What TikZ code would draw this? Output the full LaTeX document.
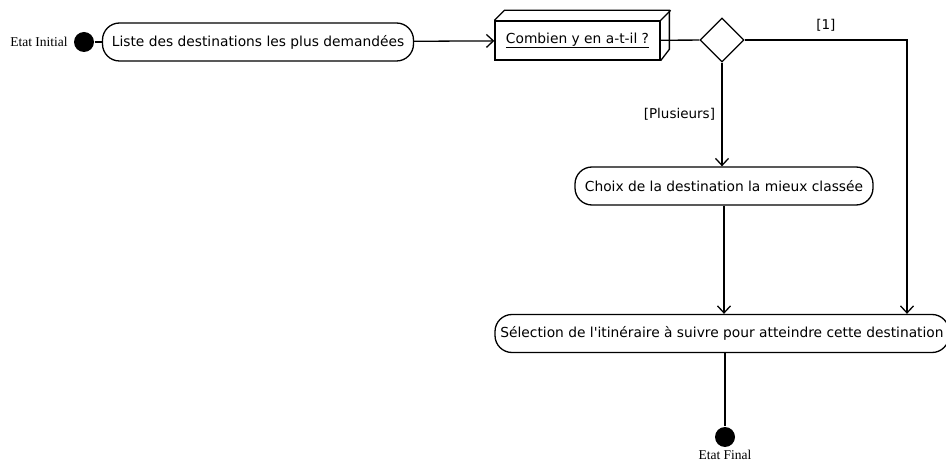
\documentclass[tikz,border=0pt]{standalone}
\usepackage{fontspec}
\setmainfont{DejaVu Sans}
\newfontfamily\etatfont{Liberation Serif}
\usetikzlibrary{shapes.geometric,arrows.meta,positioning}

\tikzset{
    etat/.style={circle, fill=black, minimum size=20pt, inner sep=0pt},
    etiquette/.style={font=\etatfont\fontsize{13.5}{14}\selectfont, inner sep=1pt},
    activite/.style={draw, line width=1.3pt, rounded corners=17pt, minimum height=38pt,
                     font=\fontsize{13.8}{15}\selectfont, inner sep=2pt},
    objet/.style={draw, line width=1.3pt, minimum width=165pt, minimum height=39pt,
                  font=\fontsize{13.8}{15}\selectfont},
    decision/.style={draw, diamond, line width=1.3pt, minimum width=44pt, minimum height=44pt, inner sep=0pt},
    fleche/.style={-{Straight Barb[length=7pt,width=13pt,line width=1.3pt]}},
    garde/.style={font=\fontsize{13.5}{15}\selectfont}
}

\begin{document}
\begin{tikzpicture}[x=1pt, y=-1pt, line width=1.3pt]
    \useasboundingbox (0,0) rectangle (946,465);

    % Initial state
    \node[etat] (init) at (84,42) {};
    \node[etiquette, left=4pt of init] (lblinit) {Etat Initial};

    % Activities
    \node[activite, minimum width=311pt] (liste) at (258,42) {Liste des destinations les plus demandées};
    \node[activite, minimum width=298pt] (classee) at (724,186) {Choix de la destination la mieux classée};
    \node[activite, minimum width=454pt] (selection) at (722,333.5) {Sélection de l\textquotesingle itinéraire à suivre pour atteindre cette destination};

    % Object box
    \node[objet] (combien) at (577.5,40.5) {\underline{Combien y en a-t-il ?}};
    \draw (combien.north west) -- ++(10,-10) -- ++(165,0) -- ++(0,39) -- (combien.south east);
    \draw (combien.north east) -- ++(10,-10);

    % Decision
    \node[decision] (choix) at (722,40) {};
    \coordinate (coin) at (907,40);

    % Final state
    \node[etat] (fin) at (725,437) {};
    \node[etiquette, below=1pt of fin] (lblfin) {Etat Final};

    % Transitions
    \draw (init) -- (liste);
    \draw[fleche] (liste) -- (combien);
    \draw (combien) -- (choix);
    \draw[fleche] (choix.east) -- (coin) node[garde, midway, above=5pt] {[1]} -- (coin |- selection.north);
    \draw[fleche] (choix.south) -- (classee.north -| choix.south) node[garde, midway, left=3pt] {[Plusieurs]};
    \draw[fleche] (classee.south) -- (classee.south |- selection.north);
    \draw (fin |- selection.south) -- (fin);
\end{tikzpicture}
\end{document}
